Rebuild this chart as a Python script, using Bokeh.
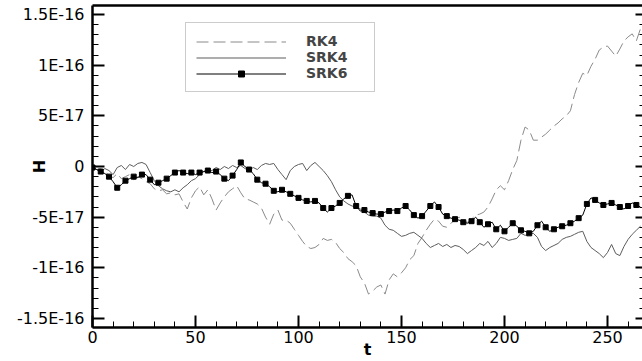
from bokeh.plotting import figure
from bokeh.models import (FixedTicker, LinearAxis, Range1d, Legend, LegendItem,
                          CustomJSTickFormatter)
from bokeh.embed import file_html
from bokeh.resources import INLINE

# ---------------- data (values in units of 1E-17) ----------------
t = list(range(0, 267, 2))

rk4_e17 = [
    0.0, -0.3, -0.2, -0.5, -0.9, -1.1, -0.7, -1.2, -1.0, -0.8,
    -1.3, -1.0, -1.2, -1.5, -1.7, -2.2, -2.4, -2.3, -2.7, -2.6,
    -2.8, -2.7, -3.5, -4.2, -3.1, -2.4, -2.0, -2.8, -2.3, -3.2,
    -4.3, -3.6, -3.0, -2.5, -2.2, -1.9, -2.6, -3.2, -3.3, -3.5,
    -3.7, -4.1, -5.0, -5.7, -4.7, -4.3, -5.3, -5.3, -5.6, -6.2,
    -6.8, -7.4, -7.9, -8.1, -8.0, -7.7, -7.1, -7.3, -7.2, -7.5,
    -8.1, -8.5, -9.1, -9.4, -9.8, -10.9, -11.5, -12.6, -12.3, -11.9,
    -11.7, -12.6, -11.2, -10.6, -10.9, -10.5, -10.0, -9.2, -8.8, -7.6,
    -7.0, -6.3, -5.7, -5.2, -5.4, -5.9, -6.0, -5.6, -5.3, -5.0,
    -5.4, -5.5, -5.2, -4.8, -4.7, -4.5, -4.0, -3.2, -2.3, -1.9,
    -2.3, -1.4, -0.3, 0.6, 2.6, 3.9, 3.6, 2.6, 2.6, 2.9,
    3.2, 3.6, 4.0, 4.3, 4.7, 5.0, 5.5, 7.1, 8.3, 9.2,
    9.0, 9.9, 10.6, 11.5, 11.8, 11.9, 11.4, 10.9, 11.6, 12.4,
    12.8, 13.1, 12.4, 13.6,
]

srk4_e17 = [
    0.0, -0.3, -0.5, -0.2, -0.4, -0.8, -0.1, 0.1, -0.3, 0.2,
    0.0, 0.3, 0.4, 0.2, -0.6, -1.4, -1.9, -2.2, -2.4, -2.5,
    -2.3, -2.5, -2.1, -1.8, -1.4, -1.2, -0.8, -0.5, -0.3, -0.4,
    -0.1, -0.3, 0.0, -0.2, 0.1, -0.1, 0.1, -0.2, -0.4, -0.1,
    -0.3, 0.1, 0.3, 0.2, 0.3, -0.3, -0.8, -1.3, -0.4, 0.0,
    0.2, 0.3, -0.4, 0.1, 0.4, 0.0, -0.4, -0.9, -1.5, -2.3,
    -3.0, -3.4, -3.7, -3.9, -4.0, -4.2, -4.5, -4.8, -4.9, -4.9,
    -5.1, -5.8, -6.2, -6.3, -6.6, -6.9, -6.8, -6.6, -6.5, -6.8,
    -7.1, -7.6, -8.0, -7.8, -7.6, -7.9, -7.7, -8.0, -7.8, -7.9,
    -8.2, -8.6, -8.3, -8.0, -7.6, -7.8, -7.4, -8.0, -7.6, -7.0,
    -7.1, -7.3, -7.2, -7.1, -6.6, -6.8, -6.7, -6.6, -7.0, -7.9,
    -8.3, -8.0, -7.8, -7.6, -7.2, -7.0, -6.9, -6.7, -6.5, -6.4,
    -7.4, -8.0, -8.3, -8.6, -9.0, -8.5, -7.7, -8.6, -8.8, -7.9,
    -7.2, -6.7, -6.3, -5.9,
]

srk6_e17 = [
    -0.1, -0.3, -0.5, -0.7, -1.0, -1.5, -2.1, -1.8, -1.4, -1.2,
    -1.0, -1.1, -0.8, -0.8, -1.3, -1.8, -1.6, -1.4, -1.2, -0.9,
    -0.6, -0.4, -0.6, -0.7, -0.6, -0.8, -0.6, -0.5, -0.4, -0.6,
    -0.5, -0.8, -1.2, -1.4, -0.9, -0.3, 0.4, 0.0, -0.3, -0.7,
    -1.3, -1.6, -1.7, -2.0, -2.4, -2.5, -2.3, -2.5, -2.7, -2.9,
    -3.1, -3.3, -3.4, -3.5, -3.4, -3.6, -4.1, -4.5, -4.1, -3.9,
    -3.6, -3.2, -2.9, -2.8, -3.9, -4.4, -4.3, -4.5, -4.6, -4.7,
    -4.7, -4.5, -4.4, -4.3, -4.4, -4.1, -3.9, -4.3, -4.8, -5.1,
    -4.9, -4.4, -3.9, -3.5, -4.0, -4.7, -4.9, -5.1, -5.2, -5.3,
    -5.5, -5.6, -5.4, -5.0, -5.5, -6.0, -5.7, -5.5, -6.2, -5.8,
    -6.4, -6.0, -5.6, -5.9, -6.3, -6.4, -6.6, -6.4, -5.8, -5.4,
    -6.0, -6.4, -6.2, -6.0, -5.9, -5.8, -5.6, -5.4, -5.1, -4.8,
    -3.7, -3.1, -3.3, -3.6, -3.8, -3.7, -3.6, -3.8, -4.0, -4.2,
    -3.9, -3.6, -3.8, -4.0,
]

UNIT = 1e-17
rk4 = [v * UNIT for v in rk4_e17]
srk4 = [v * UNIT for v in srk4_e17]
srk6 = [v * UNIT for v in srk6_e17]

series_names = ["RK4", "SRK4", "SRK6"]

x_ticks = [0, 50, 100, 150, 200, 250]
x_minor = [10, 20, 30, 40, 60, 70, 80, 90, 110, 120, 130, 140, 160, 170, 180, 190,
           210, 220, 230, 240, 260]
y_ticks = [-1.5e-16, -1e-16, -5e-17, 0.0, 5e-17, 1e-16, 1.5e-16]
y_tick_labels = ["-1.5E-16", "-1E-16", "-5E-17", "0", "5E-17", "1E-16", "1.5E-16"]
y_minor = [k * 1e-17 for k in range(-15, 16) if k % 5 != 0]

FONT = "DejaVu Sans"

# ---------------- figure ----------------
p = figure(width=642, height=361, output_backend="svg", toolbar_location=None,
           x_range=Range1d(0, 267), y_range=Range1d(-1.59e-16, 1.59e-16),
           min_border_left=92, min_border_right=0, min_border_top=5, min_border_bottom=34)
p.background_fill_color = "white"
p.border_fill_color = "white"
p.outline_line_color = None
p.grid.visible = False

# bottom axis
xa = p.xaxis[0]
xa.ticker = FixedTicker(ticks=x_ticks, minor_ticks=x_minor)
xa.axis_line_width = 2.5
xa.major_tick_in = 12
xa.major_tick_out = 0
xa.minor_tick_in = 6
xa.minor_tick_out = 0
xa.major_tick_line_width = 2
xa.minor_tick_line_width = 1
xa.major_label_standoff = 3
xa.major_label_text_font = FONT
xa.major_label_text_font_size = "16px"
xa.major_label_text_color = "black"
xa.axis_label = "t"
xa.axis_label_standoff = -6
xa.axis_label_text_font = FONT
xa.axis_label_text_font_style = "bold"
xa.axis_label_text_font_size = "16px"
xa.axis_label_text_color = "black"

# left axis
ya = p.yaxis[0]
ya.ticker = FixedTicker(ticks=y_ticks, minor_ticks=y_minor)
ya.formatter = CustomJSTickFormatter(args=dict(vals=y_ticks, labels=y_tick_labels), code="""
    let best = 0, bd = Infinity;
    for (let i = 0; i < vals.length; i++) {
        const d = Math.abs(vals[i] - tick);
        if (d < bd) { bd = d; best = i; }
    }
    return labels[best];
""")
ya.axis_line_width = 2.5
ya.major_tick_in = 12
ya.major_tick_out = 0
ya.minor_tick_in = 6
ya.minor_tick_out = 0
ya.major_tick_line_width = 2
ya.minor_tick_line_width = 1
ya.major_label_standoff = 8
ya.major_label_text_font = FONT
ya.major_label_text_font_size = "16px"
ya.major_label_text_color = "black"
ya.axis_label = "H"
ya.axis_label_standoff = -35
ya.axis_label_text_font = FONT
ya.axis_label_text_font_style = "bold"
ya.axis_label_text_font_size = "16px"
ya.axis_label_text_color = "black"

# right axis (ticks only)
ra = LinearAxis(ticker=FixedTicker(ticks=y_ticks, minor_ticks=y_minor),
                formatter=CustomJSTickFormatter(code="return '';"),
                axis_line_color=None, major_tick_in=7, major_tick_out=0,
                minor_tick_in=3, minor_tick_out=0, major_tick_line_width=2,
                minor_tick_line_width=1, major_label_standoff=0,
                major_label_text_font_size="0px")
p.add_layout(ra, "right")

# top border
ta = LinearAxis(ticker=FixedTicker(ticks=[]), formatter=CustomJSTickFormatter(code="return '';"),
                axis_line_width=2.5, major_tick_in=0, major_tick_out=0,
                minor_tick_in=0, minor_tick_out=0, major_label_standoff=0,
                major_label_text_font_size="0px")
p.add_layout(ta, "above")

# ---------------- series ----------------
r_rk4 = p.line(t, rk4, line_color="#8a8a8a", line_width=1, line_dash="12 5")
r_srk4 = p.line(t, srk4, line_color="#5c5c5c", line_width=1)
r_srk6 = p.line(t, srk6, line_color="black", line_width=1)
r_mk = p.scatter(t[::2], srk6[::2], marker="square", size=5, fill_color="black",
                 line_color="black")

legend = Legend(items=[
    LegendItem(label=series_names[0], renderers=[r_rk4]),
    LegendItem(label=series_names[1], renderers=[r_srk4]),
    LegendItem(label=series_names[2], renderers=[r_srk6, r_mk]),
], location=(93, 235))
legend.border_line_color = "#9a9a9a"
legend.border_line_width = 1
legend.background_fill_color = "white"
legend.background_fill_alpha = 1
legend.padding = 10
legend.spacing = 0
legend.margin = 0
legend.glyph_width = 90
legend.glyph_height = 15
legend.label_height = 15
legend.label_width = 58
legend.label_standoff = 20
legend.label_text_font = FONT
legend.label_text_font_style = "bold"
legend.label_text_font_size = "14px"
legend.label_text_baseline = "middle"
p.add_layout(legend)

open("out.html", "w").write(file_html(p, INLINE))
